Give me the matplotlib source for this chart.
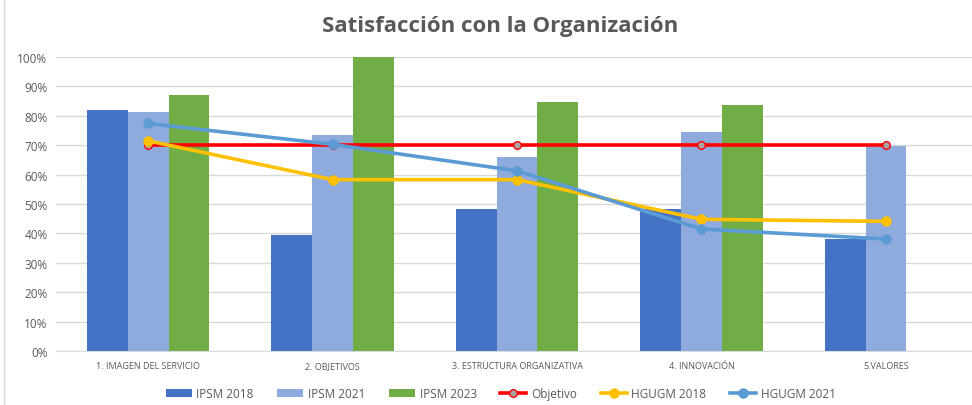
import matplotlib.pyplot as plt
import numpy as np

# Datos (fraccion 0-1)
categorias = ["1. IMAGEN DEL SERVICIO", "2. OBJETIVOS", "3. ESTRUCTURA ORGANIZATIVA",
              "4. INNOVACIÓN", "5.VALORES"]
ipsm_2018 = [0.820, 0.395, 0.483, 0.482, 0.381]
ipsm_2021 = [0.814, 0.736, 0.659, 0.746, 0.698]
ipsm_2023 = [0.872, 1.000, 0.846, 0.838, np.nan]
objetivo = [0.70, 0.70, 0.70, 0.70, 0.70]
hgugm_2018 = [0.715, 0.583, 0.583, 0.448, 0.441]
hgugm_2021 = [0.774, 0.703, 0.613, 0.415, 0.381]

plt.rcParams['font.family'] = ['Open Sans', 'DejaVu Sans']
txt = '#595959'

fig = plt.figure(figsize=(9.72, 4.06), dpi=100)
ax = fig.add_axes([0.0574, 0.133, 0.949, 0.724])

x = np.arange(len(categorias))
w = 0.222
b1 = ax.bar(x - w, ipsm_2018, w, color='#4472C4', label='IPSM 2018', zorder=2)
b2 = ax.bar(x, ipsm_2021, w, color='#8FAADC', label='IPSM 2021', zorder=2)
b3 = ax.bar(x + w, ipsm_2023, w, color='#70AD47', label='IPSM 2023', zorder=2)

l1, = ax.plot(x, objetivo, color='#FF0000', lw=2.6, marker='o', ms=5.5,
              mfc='#A5A5A5', mec='#FF0000', mew=1, label='Objetivo', zorder=3)
l2, = ax.plot(x, hgugm_2018, color='#FFC000', lw=2.6, marker='o', ms=6.5,
              label='HGUGM 2018', zorder=4)
l3, = ax.plot(x, hgugm_2021, color='#5B9BD5', lw=2.6, marker='o', ms=6.5,
              label='HGUGM 2021', zorder=5)

ax.set_xlim(-0.5, len(categorias) - 0.5)
ax.set_ylim(0, 1.0)
ax.set_yticks(np.arange(0, 1.01, 0.1))
ax.set_yticklabels([f"{int(round(v * 100))}%" for v in np.arange(0, 1.01, 0.1)],
                   fontsize=8.5, color=txt)
ax.set_xticks(x)
ax.set_xticklabels(categorias, fontsize=6.5, color=txt)
ax.tick_params(length=0, pad=6)
ax.tick_params(axis='x', pad=7)
ax.grid(axis='y', color='#D9D9D9', lw=1, zorder=0)
for s in ['top', 'right', 'left']:
    ax.spines[s].set_visible(False)
ax.spines['bottom'].set_color('#D9D9D9')

fig.text(0.515, 0.935, "Satisfacción con la Organización", ha='center', va='center',
         fontsize=16, fontweight='bold', color=txt)

fig.legend([b1, b2, b3, l1, l2, l3],
           ['IPSM 2018', 'IPSM 2021', 'IPSM 2023', 'Objetivo', 'HGUGM 2018', 'HGUGM 2021'],
           loc='center', bbox_to_anchor=(0.515, 0.028), ncol=6, frameon=False,
           fontsize=8.5, labelcolor=txt, handlelength=2.2, columnspacing=2.0,
           handletextpad=0.4)

fig.add_artist(plt.Line2D([0.004, 0.004], [0, 1], color='#D9D9D9', lw=1))

fig.savefig('out.png', dpi=100)
